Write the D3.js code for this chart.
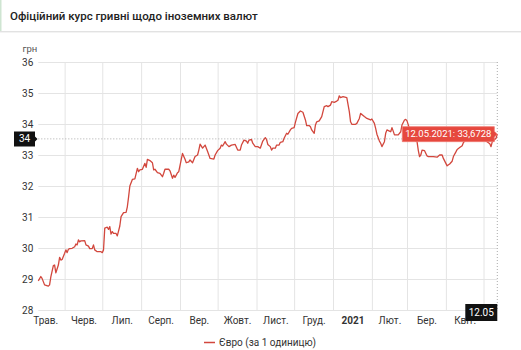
<!DOCTYPE html>
<html><head><meta charset="utf-8">
<script src="https://cdn.jsdelivr.net/npm/d3@7"></script>
<style>
body{margin:0;background:#fff;font-family:Roboto,"Noto Sans",sans-serif;}
svg{display:block}
</style></head><body>
<svg id="chart" width="521" height="350"></svg>
<script>
const chartTitle = "Офіційний курс гривні щодо іноземних валют";
const unitLabel = "грн";
const seriesName = "Євро (за 1 одиницю)";
const rateDates = [
"2020-05-11","2020-05-13","2020-05-14","2020-05-16","2020-05-19","2020-05-20","2020-05-21","2020-05-23","2020-05-24","2020-05-25",
"2020-05-27","2020-05-28","2020-05-29","2020-05-30","2020-06-01","2020-06-02","2020-06-03","2020-06-04","2020-06-05","2020-06-07",
"2020-06-09","2020-06-10","2020-06-11","2020-06-12","2020-06-13","2020-06-14","2020-06-17","2020-06-18","2020-06-20","2020-06-21",
"2020-06-23","2020-06-24","2020-06-25","2020-06-27","2020-06-30","2020-07-01","2020-07-02","2020-07-03","2020-07-05","2020-07-06",
"2020-07-07","2020-07-08","2020-07-09","2020-07-10","2020-07-12","2020-07-13","2020-07-15","2020-07-16","2020-07-18","2020-07-20",
"2020-07-21","2020-07-22","2020-07-23","2020-07-25","2020-07-27","2020-07-29","2020-07-30","2020-07-31","2020-08-02","2020-08-04",
"2020-08-05","2020-08-06","2020-08-08","2020-08-10","2020-08-11","2020-08-12","2020-08-14","2020-08-16","2020-08-18","2020-08-19",
"2020-08-20","2020-08-23","2020-08-24","2020-08-26","2020-08-27","2020-08-28","2020-08-29","2020-08-30","2020-08-31","2020-09-02",
"2020-09-03","2020-09-05","2020-09-06","2020-09-08","2020-09-09","2020-09-11","2020-09-13","2020-09-15","2020-09-16","2020-09-17",
"2020-09-19","2020-09-20","2020-09-21","2020-09-23","2020-09-25","2020-09-28","2020-09-29","2020-10-01","2020-10-03","2020-10-04",
"2020-10-05","2020-10-07","2020-10-08","2020-10-10","2020-10-12","2020-10-15","2020-10-17","2020-10-19","2020-10-20","2020-10-22",
"2020-10-24","2020-10-25","2020-10-26","2020-10-28","2020-10-29","2020-10-31","2020-11-02","2020-11-04","2020-11-06","2020-11-08",
"2020-11-09","2020-11-10","2020-11-12","2020-11-13","2020-11-14","2020-11-16","2020-11-17","2020-11-19","2020-11-20","2020-11-22",
"2020-11-23","2020-11-25","2020-11-26","2020-11-28","2020-11-29","2020-12-01","2020-12-02","2020-12-04","2020-12-06","2020-12-08",
"2020-12-10","2020-12-11","2020-12-13","2020-12-14","2020-12-15","2020-12-17","2020-12-18","2020-12-19","2020-12-21","2020-12-23",
"2020-12-25","2020-12-27","2020-12-28","2020-12-30","2020-12-31","2021-01-02","2021-01-04","2021-01-05","2021-01-06","2021-01-07",
"2021-01-09","2021-01-12","2021-01-14","2021-01-15","2021-01-16","2021-01-19","2021-01-20","2021-01-22","2021-01-23","2021-01-24",
"2021-01-26","2021-01-28","2021-01-31","2021-02-01","2021-02-03","2021-02-04","2021-02-05","2021-02-07","2021-02-08","2021-02-09",
"2021-02-11","2021-02-12","2021-02-13","2021-02-15","2021-02-16","2021-02-17","2021-02-18","2021-02-19","2021-02-22","2021-02-24",
"2021-02-25","2021-02-27","2021-02-28","2021-03-01","2021-03-03","2021-03-04","2021-03-06","2021-03-08","2021-03-09","2021-03-10",
"2021-03-11","2021-03-12","2021-03-13","2021-03-15","2021-03-17","2021-03-18","2021-03-22","2021-03-25","2021-03-27","2021-03-29",
"2021-03-30","2021-04-01","2021-04-02","2021-04-04","2021-04-06","2021-04-07","2021-04-09","2021-04-10","2021-04-12","2021-04-14",
"2021-04-15","2021-04-17","2021-04-20","2021-04-23","2021-04-27","2021-04-30","2021-05-03","2021-05-06","2021-05-07","2021-05-08",
"2021-05-11","2021-05-12"
];
const rateValues = [
28.94,29.08,29.02,28.81,28.77,28.81,29.07,29.43,29.45,29.20,
29.45,29.70,29.61,29.63,29.83,29.94,29.85,29.96,29.98,29.99,
30.04,30.13,30.10,30.26,30.20,30.23,30.24,30.10,30.06,29.98,
29.98,30.10,29.94,29.88,29.88,29.85,29.94,30.64,30.67,30.60,
30.69,30.45,30.53,30.47,30.47,30.39,30.71,31.01,31.14,31.15,
31.33,31.65,32.00,32.21,32.23,32.57,32.46,32.52,32.54,32.73,
32.60,32.86,32.82,32.75,32.52,32.54,32.43,32.41,32.30,32.41,
32.54,32.54,32.49,32.25,32.35,32.28,32.35,32.43,32.46,32.86,
33.05,32.86,32.75,32.78,32.84,32.75,32.95,33.00,33.16,33.35,
33.22,33.27,33.32,33.11,32.89,32.87,33.00,33.14,33.22,33.32,
33.29,33.43,33.35,33.27,33.32,33.34,33.16,33.16,33.32,33.48,
33.45,33.38,33.48,33.50,33.38,33.27,33.27,33.22,33.45,33.56,
33.50,33.34,33.27,33.16,33.22,33.22,33.32,33.32,33.41,33.43,
33.54,33.70,33.67,33.81,33.86,33.88,34.05,34.34,34.42,34.38,
34.13,33.95,33.95,33.91,33.81,33.70,33.97,34.07,34.10,34.24,
34.56,34.59,34.56,34.61,34.72,34.70,34.74,34.77,34.91,34.85,
34.88,34.85,34.40,34.07,33.99,33.99,34.02,34.18,34.34,34.31,
34.24,34.18,34.13,34.16,34.02,33.86,33.67,33.45,33.38,33.27,
33.43,33.70,33.81,33.77,33.75,33.88,33.77,33.65,33.65,33.75,
33.97,34.13,34.15,34.10,33.85,33.60,33.50,33.45,33.43,33.15,
32.95,33.00,33.16,33.14,32.97,32.95,32.95,32.93,33.00,33.00,
32.89,32.73,32.65,32.71,32.80,32.95,33.10,33.18,33.24,33.30,
33.40,33.50,33.55,33.60,33.70,33.55,33.45,33.36,33.27,33.43,
33.54,33.6728
];
const xDomain = ["2020-05-11","2021-05-12"];
const yTicks = [28,29,30,31,32,33,34,35,36];
const monthStarts = ["2020-05-01","2020-06-01","2020-07-01","2020-08-01","2020-09-01","2020-10-01","2020-11-01","2020-12-01","2021-01-01","2021-02-01","2021-03-01","2021-04-01","2021-05-01"];
const monthLabels = ["Трав.","Черв.","Лип.","Серп.","Вер.","Жовт.","Лист.","Груд.","2021","Лют.","Бер.","Квіт."];
const crosshairDate = "2021-05-12";
const crosshairValue = 33.52;

const parse = d3.utcParse("%Y-%m-%d");
const data = rateDates.map((d,i)=>({date:parse(d), value:rateValues[i]}));
const svg = d3.select("#chart");
const L = 38.3, R = 497.3, T = 62, B = 310;
const x = d3.scaleUtc().domain(xDomain.map(parse)).range([L,R]);
const y = d3.scaleLinear().domain([28,36]).range([B,T]);
const lineColor = "#d2473d";

// header
svg.append("rect").attr("x",0).attr("y",0).attr("width",521).attr("height",31).attr("fill","#fff");
svg.append("rect").attr("x",0).attr("y",0).attr("width",1.5).attr("height",31).attr("fill","#cfe5d2");
svg.append("line").attr("x1",0).attr("x2",521).attr("y1",31.5).attr("y2",31.5).attr("stroke","#e2e2e2");
svg.append("line").attr("x1",0).attr("x2",521).attr("y1",32.5).attr("y2",32.5).attr("stroke","#f3f3f3");
svg.append("text").attr("x",10).attr("y",19.5).text(chartTitle)
  .attr("font-size",11.5).attr("font-weight",500).attr("fill","#222");

// unit
svg.append("text").attr("x",22.5).attr("y",52).text(unitLabel).attr("font-size",9.5).attr("fill","#555");

// y grid + labels
const yAxis = svg.append("g").attr("transform",`translate(${L},0)`)
  .call(d3.axisLeft(y).tickValues(yTicks).tickSize(-(R-L)).tickPadding(5).tickFormat(d3.format("d")));
yAxis.select(".domain").remove();
yAxis.selectAll("line").attr("stroke","#e4e4e4");
yAxis.selectAll("text").attr("font-size",10).attr("fill","#333").attr("font-family","Roboto, sans-serif");

// x grid
const gridDates = monthStarts.slice(1).map(parse);
const xGrid = svg.append("g").attr("transform",`translate(0,${B})`)
  .call(d3.axisBottom(x).tickValues(gridDates).tickSize(-(B-T)).tickFormat(""));
xGrid.select(".domain").remove();
xGrid.selectAll("line").attr("stroke","#e4e4e4");

// x labels at month middles
const mids = monthStarts.slice(0,12).map(s=>{const a=parse(s), b=d3.utcMonth.offset(a,1); return new Date((+a + +b)/2);});
const xAxis = svg.append("g").attr("transform",`translate(0,${B})`)
  .call(d3.axisBottom(x).tickValues(mids).tickSize(0).tickPadding(7).tickFormat((d,i)=>monthLabels[i]));
xAxis.select(".domain").remove();
xAxis.selectAll("text").attr("font-size",10).attr("fill","#333").attr("font-family","Roboto, sans-serif")
  .attr("font-weight",(d,i)=>monthLabels[i]==="2021"?"bold":null);

// crosshair
const cx = x(parse(crosshairDate)), cy = y(crosshairValue);
svg.append("line").attr("x1",cx).attr("x2",cx).attr("y1",T).attr("y2",B)
  .attr("stroke","#aaa").attr("stroke-dasharray","1,2");
svg.append("line").attr("x1",L).attr("x2",R).attr("y1",cy).attr("y2",cy)
  .attr("stroke","#aaa").attr("stroke-dasharray","1,2");

// line
svg.append("path").datum(data).attr("fill","none").attr("stroke",lineColor).attr("stroke-width",1.3)
  .attr("stroke-linejoin","round")
  .attr("d",d3.line().x(d=>x(d.date)).y(d=>y(d.value)));

// tooltip
const last = data[data.length-1];
const tx = x(last.date), ty = y(last.value);
const tipText = d3.utcFormat("%d.%m.%Y")(last.date)+": "+String(last.value).replace(".",",");
const tipW = 92, tipH = 15;
svg.append("path")
  .attr("d",`M${tx},${ty} L${tx-3},${ty-3} L${tx-3},${ty-tipH/2} L${tx-3-tipW},${ty-tipH/2} L${tx-3-tipW},${ty+tipH/2} L${tx-3},${ty+tipH/2} L${tx-3},${ty+3} Z`)
  .attr("fill","#e6483e").attr("stroke","#f07a72").attr("stroke-width",0.8);
svg.append("text").attr("x",tx-3-tipW/2).attr("y",ty+3.3).attr("text-anchor","middle")
  .attr("font-size",9.5).attr("fill","#fff").text(tipText);

// y badge
const yb = d3.format(".0f")(crosshairValue);
svg.append("path")
  .attr("d",`M14,${cy-7.5} L35,${cy-7.5} L35,${cy-2.5} L37.5,${cy} L35,${cy+2.5} L35,${cy+7.5} L14,${cy+7.5} Z`)
  .attr("fill","#111");
svg.append("text").attr("x",24.5).attr("y",cy+3.5).attr("text-anchor","middle")
  .attr("font-size",10).attr("fill","#fff").text(yb);

// x badge
const xb = d3.utcFormat("%d.%m")(parse(crosshairDate));
svg.append("path")
  .attr("d",`M${cx},${B-6} L${cx},${B+11} L${cx-32},${B+11} L${cx-32},${B-6} L${cx-3},${B-6} Z`)
  .attr("fill","#111");
svg.append("text").attr("x",cx-16).attr("y",B+6).attr("text-anchor","middle")
  .attr("font-size",10).attr("fill","#fff").text(xb);

// legend
svg.append("line").attr("x1",204).attr("x2",215).attr("y1",342.5).attr("y2",342.5)
  .attr("stroke",lineColor).attr("stroke-width",1.5);
svg.append("text").attr("x",219).attr("y",346).attr("font-size",10).attr("fill","#333").text(seriesName);
</script>
</body></html>
